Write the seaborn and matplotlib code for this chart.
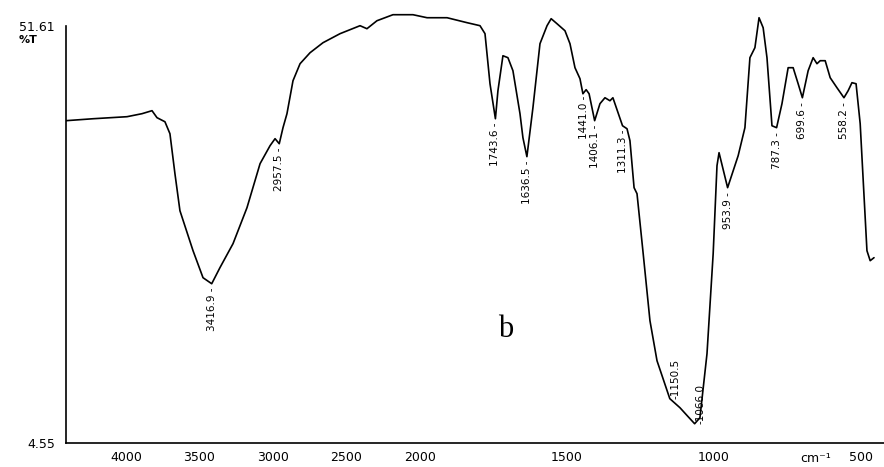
import numpy as np
import matplotlib
matplotlib.use("Agg")
import matplotlib.pyplot as plt
import seaborn as sns
import pandas as pd

# -------------------------------
# DATA
# -------------------------------
wavenumber = [4408, 4224, 3993, 3891, 3823, 3789, 3735, 3701, 3667, 3633,
              3544, 3476, 3416.9, 3361, 3272, 3177, 3088, 3020, 2986, 2957.5,
              2932, 2905, 2864, 2816, 2748, 2660, 2544, 2408, 2361, 2293,
              2184, 2048, 1976, 1908, 1840, 1796, 1779, 1762, 1743.6, 1735,
              1718, 1701, 1684, 1660, 1650, 1636.5, 1616, 1592, 1568, 1554,
              1534, 1507, 1490, 1473, 1456, 1446, 1435, 1425, 1406.1, 1388,
              1371, 1354, 1344, 1323, 1311.3, 1296, 1286, 1272, 1262, 1241,
              1218, 1194, 1150.5, 1116, 1088, 1066.0, 1048, 1024, 1003, 990,
              983, 953.9, 918, 895, 878, 861, 847, 833, 820, 803,
              787.3, 769, 748, 731, 714, 699.6, 680, 663, 650, 639,
              622, 605, 582, 558.2, 544, 531, 517, 503, 480, 469, 456]
transmittance = [40.89, 41.11, 41.34, 41.68, 42.02, 41.23, 40.77, 39.42, 34.91, 30.73,
                 26.22, 23.17, 22.49, 24.30, 27.01, 31.07, 36.04, 38.07, 38.86, 38.29,
                 40.10, 41.68, 45.40, 47.32, 48.56, 49.69, 50.71, 51.61, 51.27, 52.17,
                 52.85, 52.85, 52.51, 52.51, 51.95, 51.61, 50.71, 45.06, 41.11, 44.27,
                 48.22, 48.00, 46.53, 41.68, 38.97, 36.83, 42.35, 49.58, 51.61, 52.40,
                 51.83, 51.04, 49.58, 46.87, 45.63, 43.93, 44.39, 43.93, 40.89, 42.81,
                 43.48, 43.14, 43.48, 41.45, 40.32, 39.98, 38.63, 33.33, 32.65, 25.88,
                 18.32, 13.80, 9.52, 8.50, 7.48, 6.69, 7.37, 14.59, 25.88, 35.81,
                 37.28, 33.33, 36.94, 40.10, 48.00, 49.13, 52.51, 51.38, 48.00, 40.32,
                 40.10, 42.81, 46.87, 46.87, 45.06, 43.48, 46.53, 48.00, 47.32, 47.66,
                 47.66, 45.74, 44.61, 43.48, 44.27, 45.18, 45.06, 40.55, 26.22, 25.09, 25.43]

peaks_down = [3416.9, 2957.5, 1743.6, 1636.5, 1441.0, 1406.1, 1311.3, 953.9, 787.3, 699.6, 558.2]
peaks_up = [1150.5, 1066.0]

x_ticks = [4000, 3500, 3000, 2500, 2000, 1500, 1000, 500]
y_ticks = [4.55, 13.962, 23.374, 32.786, 42.198, 51.61]
y_ticklabels = ["4.55", "", "", "", "", "51.61"]

df = pd.DataFrame({"wn": wavenumber, "T": transmittance})

# -------------------------------
# scale: above 2000 cm-1 is compressed 2x (spectrometer chart paper)
# -------------------------------
def fwd(x):
    x = np.asarray(x, dtype=float)
    return np.where(x > 2000, 2000 + (x - 2000) / 2.0, x)

def inv(u):
    u = np.asarray(u, dtype=float)
    return np.where(u > 2000, 2000 + (u - 2000) * 2.0, u)

sns.set_style("white")
plt.rcParams["font.family"] = ["DejaVu Sans"]
plt.rcParams["text.color"] = "black"
plt.rcParams["xtick.color"] = "black"
plt.rcParams["ytick.color"] = "black"

fig = plt.figure(figsize=(8.84, 4.67), dpi=100)
ax = fig.add_axes([66 / 884, 24.3 / 467, 1 - 66 / 884, 442.7 / 467])

sns.lineplot(data=df, x="wn", y="T", ax=ax, color="black", linewidth=1.2,
             estimator=None, sort=False)

ax.set_xscale("function", functions=(fwd, inv))
ax.set_xlim(4408, 422)
ax.set_ylim(4.55, 54.51)

ax.set_xticks(x_ticks)
ax.set_xticklabels([str(t) for t in x_ticks])
ax.set_yticks(y_ticks)
ax.set_yticklabels(y_ticklabels)
ax.tick_params(axis="x", direction="out", length=4, width=1, pad=2, labelsize=9)
ax.tick_params(axis="y", direction="out", length=6, width=1, pad=2, labelsize=9)
ax.minorticks_off()
ax.set_xlabel("")
ax.set_ylabel("")

for s in ["top", "right"]:
    ax.spines[s].set_visible(False)
for s in ["left", "bottom"]:
    ax.spines[s].set_color("black")
    ax.spines[s].set_linewidth(1.2)
ax.spines["left"].set_bounds(4.55, 51.61)

# peak labels
wn_rev = np.array(wavenumber)[::-1]
t_rev = np.array(transmittance)[::-1]
for p in peaks_down:
    t = np.interp(p, wn_rev, t_rev)
    ax.annotate(f"{p:.1f} -", xy=(p, t), xytext=(0, -3), textcoords="offset points",
                rotation=90, ha="center", va="top", fontsize=7.5)
for p in peaks_up:
    t = np.interp(p, wn_rev, t_rev)
    ax.annotate(f"-{p:.1f}", xy=(p, t), xytext=(4, 0), textcoords="offset points",
                rotation=90, ha="center", va="bottom", fontsize=7.5)

ax.text(0.537, 0.255, "b", transform=ax.transAxes, ha="center", va="center",
        fontsize=22, family="Liberation Serif")
ax.text(0.916, -0.035, "cm⁻¹", transform=ax.transAxes, ha="center", va="center",
        fontsize=9)
fig.text(28 / 884, 1 - 40 / 467, "%T", ha="center", va="center", fontsize=8,
         weight="bold")

fig.savefig("out.png", dpi=100)
